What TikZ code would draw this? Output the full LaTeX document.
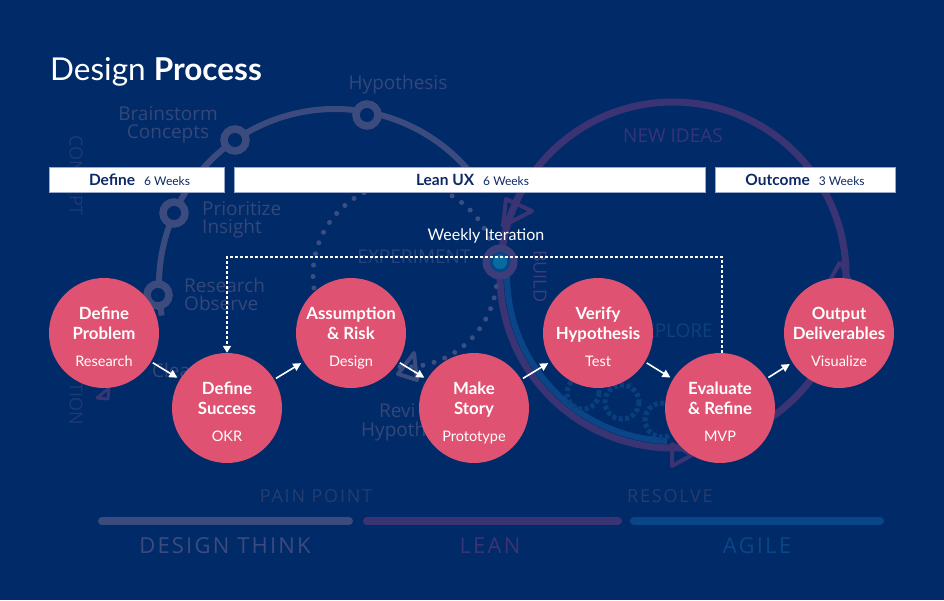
\documentclass[tikz,border=0pt]{standalone}
\usepackage{fontspec}
\setmainfont{Lato}
\newfontfamily\bgfont{Open Sans}
\newfontfamily\bgspaced[LetterSpace=10]{Open Sans}
\usetikzlibrary{arrows.meta}
\definecolor{bgc}{HTML}{012A68}
\definecolor{pinkc}{HTML}{E05271}
\definecolor{navy}{HTML}{0D2A66}
\definecolor{dtg}{HTML}{3C4B7D}
\definecolor{dttext}{HTML}{34477A}
\definecolor{leanp}{HTML}{3A3474}
\definecolor{leantext}{HTML}{37337A}
\definecolor{agileb}{HTML}{0A4687}
\definecolor{loopc}{HTML}{0A3F7E}
\definecolor{agiletext}{HTML}{0F417D}
\definecolor{dotc}{HTML}{3A4E82}
\definecolor{faintc}{HTML}{233D70}
\definecolor{vfaint}{HTML}{1E3A72}
\definecolor{ringc}{HTML}{3D3D7A}
\definecolor{boxedge}{HTML}{9AA8CC}
\definecolor{expc}{HTML}{28417A}
\newcommand\mystep[6]{%
  \node[stepcirc] (#1) at (#2,#3) {};
  \node[ttl] (#1-t1) at ([yshift=14pt]#1.center) {#4};
  \node[ttl] (#1-t2) at ([yshift=-6pt]#1.center) {#5};
  \node[sub] (#1-s) at ([yshift=-33pt]#1.center) {#6};
}
\begin{document}
\begin{tikzpicture}[x=1pt,y=-1pt,
  stepcirc/.style={circle,fill=pinkc,minimum size=110pt,inner sep=0pt},
  ttl/.style={text=white,font=\fontsize{16.8}{16.8}\selectfont\bfseries,anchor=base,inner sep=0pt},
  sub/.style={text=white,font=\fontsize{14.5}{14.5}\selectfont,anchor=base,inner sep=0pt},
  flow/.style={draw=white,line width=1.6pt,-{Triangle[length=8pt,width=8pt]},shorten <=2pt,shorten >=3pt},
  iter/.style={draw=white,line width=1.8pt,dash pattern=on 2.5pt off 2.5pt,-{Triangle[length=7pt,width=8pt]}},
  hdrbox/.style={fill=white,draw=boxedge,line width=0.8pt,anchor=north west,minimum height=25pt,inner sep=0pt},
  hdrtxt/.style={text=navy,anchor=base,inner sep=0pt},
  bgt/.style={text=dttext,font=\bgfont\fontsize{19}{19}\selectfont,inner sep=0pt},
  ring/.style={draw=dtg,line width=7.5pt,fill=bgc,circle,minimum size=22pt,inner sep=0pt},
  bar/.style={line width=8pt,line cap=round},
  spc/.style={font=\bgspaced\fontsize{#1}{#1}\selectfont,anchor=base,inner sep=0pt},
]
\fill[bgc] (0,0) rectangle (944,600);
\useasboundingbox (0,0) rectangle (944,600);

% ---------- faint background art ----------
\draw[leanp,line width=7pt] (673,275) circle[radius=173];
\draw[leanp,line width=4pt,line join=round] (840,262) -- (829,282);
\draw[leanp,line width=4pt,line join=round] (840,262) -- (851,282);
\draw[leanp,line width=4pt,line join=round] (503,226) -- (506,199) -- (532,211) -- cycle;
\draw[leanp,line width=4pt,line join=round] (672,444) -- (672,466) -- (692,455) -- cycle;
\draw[agileb,line width=6pt] (673,275) ++(183:166) arc[start angle=183,end angle=92,radius=166];
\draw[loopc,line width=5pt,dash pattern=on 4pt off 2.5pt] (583,393) circle[radius=16];
\draw[loopc,line width=5pt,dash pattern=on 4pt off 2.5pt] (622,402) circle[radius=17];
\draw[loopc,line width=5pt,dash pattern=on 4pt off 2.5pt] (662,420) circle[radius=17];
\draw[dotc,line width=5pt,line cap=round,dash pattern=on 0pt off 11.5pt] (405,275) circle[radius=92];
\draw[dtg,line width=4pt,line join=round] (398,374) -- (414,353) -- (417,380) -- cycle;
\draw[leanp,line width=3pt,line join=round] (97,398) -- (109,388) -- (108,399) -- cycle;
\draw[dtg,line width=6pt] (335,285) ++(170:176) arc[start angle=170,end angle=328,radius=176];
\node[ring] (n1) at (158,295) {};
\node[ring] (n2) at (174,213) {};
\node[ring] (n3) at (235,140) {};
\node[ring] (n4) at (367,115) {};
\draw[ringc,line width=7pt,fill=agileb] (500,262) circle[radius=14];
\fill[fill=agileb!80!cyan] (500,262) circle[radius=7];
\node[bgt,anchor=base] (bs1) at (168,120) {Brainstorm};
\node[bgt,anchor=base] (bs2) at (168,138) {Concepts};
\node[bgt,anchor=base] (hy) at (398,89) {Hypothesis};
\node[bgt,anchor=base west] (pr1) at (202,215) {Prioritize};
\node[bgt,anchor=base west] (pr2) at (202,233) {Insight};
\node[bgt,anchor=base west] (re1) at (184,292) {Research};
\node[bgt,anchor=base west] (re2) at (184,310) {Observe};
\node[bgt,anchor=base west] (cl) at (152,377) {Clea};
\node[bgt,anchor=base west] (rv1) at (379,417) {Revi};
\node[bgt,anchor=base west] (rv2) at (361,436) {Hypoth};
\node[bgt,anchor=base,text=expc] (exp) at (414,263) {EXPERIMENT};
\node[bgt,anchor=base,text=leantext] (ni) at (673,142) {NEW IDEAS};
\node[bgt,anchor=base east,text=agiletext] (xpl) at (713,337) {EXPLORE};
\node[bgt,anchor=west,rotate=-90,text=ringc,font=\bgfont\fontsize{18}{18}\selectfont] (bld) at (540,250) {BUILD};
\node[bgt,anchor=west,rotate=-90,text=vfaint,font=\bgfont\fontsize{18}{18}\selectfont] (cpt) at (76,135) {CONCEPT};
\node[bgt,anchor=east,rotate=-90,text=vfaint,font=\bgfont\fontsize{18}{18}\selectfont] (tion) at (76,425) {TION};
\node[spc=18,text=faintc] (pain) at (316,502) {PAIN POINT};
\node[spc=18,text=faintc] (reso) at (670,502) {RESOLVE};
\draw[bar,color=dtg] (102,521) -- (349,521);
\draw[bar,color=leanp] (367,521) -- (618,521);
\draw[bar,color=agileb] (634,521) -- (880,521);
\node[spc=22,text=dtg] (dthink) at (225,553) {DESIGN THINK};
\node[spc=22,text=leanp] (lean) at (490,553) {LEAN};
\node[spc=22,text=agileb] (agile) at (757,553) {AGILE};

% ---------- foreground ----------
\node[anchor=base west,text=white,inner sep=0pt,font=\fontsize{31.5}{31.5}\selectfont] (title) at (50,80) {Design \textbf{Process}};

\node[hdrbox,minimum width=175pt] (bdef) at (49,167) {};
\node[hdrbox,minimum width=471pt] (blean) at (234,167) {};
\node[hdrbox,minimum width=180pt] (bout) at (715,167) {};
\node[hdrtxt] (tdef) at (139.5,185) {{\fontsize{15.5}{15.5}\selectfont\bfseries Define}\hspace{9pt}{\fontsize{12}{12}\selectfont 6 Weeks}};
\node[hdrtxt] (tlean) at (472.5,185) {{\fontsize{15.5}{15.5}\selectfont\bfseries Lean UX}\hspace{9pt}{\fontsize{12}{12}\selectfont 6 Weeks}};
\node[hdrtxt] (tout) at (805,185) {{\fontsize{15.5}{15.5}\selectfont\bfseries Outcome}\hspace{9pt}{\fontsize{12}{12}\selectfont 3 Weeks}};

\node[text=white,inner sep=0pt,font=\fontsize{16}{16}\selectfont] (weekly) at (486,236) {Weekly Iteration};

\mystep{prob}{104}{333}{Define}{Problem}{Research}
\mystep{succ}{227}{408}{Define}{Success}{OKR}
\mystep{assum}{351}{333}{Assumption}{\& Risk}{Design}
\mystep{story}{474}{408}{Make}{Story}{Prototype}
\mystep{verify}{598}{333}{Verify}{Hypothesis}{Test}
\mystep{evalr}{720}{408}{Evaluate}{\& Refine}{MVP}
\mystep{output}{839}{333}{Output}{Deliverables}{Visualize}

\coordinate (itl) at (227,257);
\coordinate (itr) at (722,257);
\draw[iter] (itr |- evalr.north) -- (itr) -- (itl) -- (succ.north);

\draw[flow] (prob) -- (succ);
\draw[flow] (succ) -- (assum);
\draw[flow] (assum) -- (story);
\draw[flow] (story) -- (verify);
\draw[flow] (verify) -- (evalr);
\draw[flow] (evalr) -- (output);
\end{tikzpicture}
\end{document}
